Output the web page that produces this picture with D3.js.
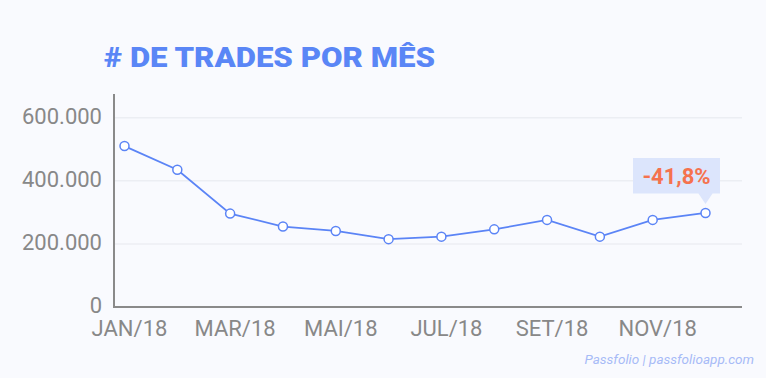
<!DOCTYPE html>
<html><head><meta charset="utf-8">
<script src="https://cdn.jsdelivr.net/npm/d3@7/dist/d3.min.js"></script>
<style>
html,body{margin:0;padding:0;background:#f9fafe;}
svg{display:block;font-family:Roboto,"Noto Sans",sans-serif;}
</style></head>
<body>
<svg id="c" width="766" height="378"></svg>
<script>
const months = ["JAN/18","FEV/18","MAR/18","ABR/18","MAI/18","JUN/18","JUL/18","AGO/18","SET/18","OUT/18","NOV/18","DEZ/18"];
const trades = [510000,435000,296000,255000,241000,215000,223000,246000,276000,223000,276000,298000];
const yTicks = [0,200000,400000,600000];
const xTickLabels = ["JAN/18","MAR/18","MAI/18","JUL/18","SET/18","NOV/18"];
const titleText = "# DE TRADES POR MÊS";
const changeLabel = "-41,8%";
const sourceText = "Passfolio | passfolioapp.com";

const svg = d3.select("#c");
const axisX0 = 114, axisX1 = 742, axisY0 = 307, axisTop = 94;
const x = d3.scalePoint().domain(months).range([124.5, 705.5]);
const y = d3.scaleLinear().domain([0, 675000]).range([axisY0, axisTop]);
const fmt = v => v === 0 ? "0" : d3.format(",")(v).replace(/,/g, ".");

const title = svg.append("text").attr("x", 104).attr("y", 67)
  .attr("font-size", 28).attr("font-weight", 900).attr("fill", "#5a86f6")
  .text(titleText);
// fit title to its width in the reference
const tw = title.node().getComputedTextLength();
title.attr("textLength", 331).attr("lengthAdjust", "spacingAndGlyphs");

// grid
svg.append("g").selectAll("line").data(yTicks.filter(d => d > 0)).join("line")
  .attr("x1", axisX0).attr("x2", axisX1)
  .attr("y1", d => y(d)).attr("y2", d => y(d))
  .attr("stroke", "#eceef3").attr("stroke-width", 1.5);

// y labels
svg.append("g").selectAll("text").data(yTicks).join("text")
  .attr("x", 102).attr("y", d => y(d) + 6)
  .attr("text-anchor", "end").attr("font-size", 22).attr("fill", "#888888")
  .text(fmt);

// axes lines
svg.append("line").attr("x1", axisX0).attr("x2", axisX0).attr("y1", axisTop).attr("y2", axisY0)
  .attr("stroke", "#8a8a8a").attr("stroke-width", 2);
svg.append("line").attr("x1", axisX0 - 1).attr("x2", axisX1).attr("y1", axisY0).attr("y2", axisY0)
  .attr("stroke", "#8a8a8a").attr("stroke-width", 2);

// x labels
svg.append("g").selectAll("text").data(xTickLabels).join("text")
  .attr("x", d => x(d) + 5).attr("y", 336)
  .attr("text-anchor", "middle").attr("font-size", 22).attr("fill", "#888888")
  .text(d => d);

// line
const pts = months.map((m, i) => [x(m), y(trades[i])]);
svg.append("path").attr("d", d3.line()(pts))
  .attr("fill", "none").attr("stroke", "#5b84f6").attr("stroke-width", 1.8);
svg.append("g").selectAll("circle").data(pts).join("circle")
  .attr("cx", d => d[0]).attr("cy", d => d[1]).attr("r", 4.5)
  .attr("fill", "#ffffff").attr("stroke", "#5b84f6").attr("stroke-width", 1.5);

// callout
const last = pts[pts.length - 1];
const bx0 = 633, bx1 = 720, by0 = 158, by1 = 193.5;
const tipY = last[1] - 9;
svg.append("path")
  .attr("d", `M${bx0},${by0}H${bx1}V${by1}H${last[0] + 7}L${last[0]},${tipY}L${last[0] - 7},${by1}H${bx0}Z`)
  .attr("fill", "#dce5fc");
svg.append("text").attr("x", (bx0 + bx1) / 2).attr("y", 184)
  .attr("text-anchor", "middle").attr("font-size", 22).attr("font-weight", 700)
  .attr("fill", "#f5724e").text(changeLabel);

svg.append("text").attr("x", 754).attr("y", 364).attr("text-anchor", "end")
  .attr("font-size", 13.5).attr("font-style", "italic").attr("fill", "#a7bbf7")
  .text(sourceText);
</script>
</body></html>
